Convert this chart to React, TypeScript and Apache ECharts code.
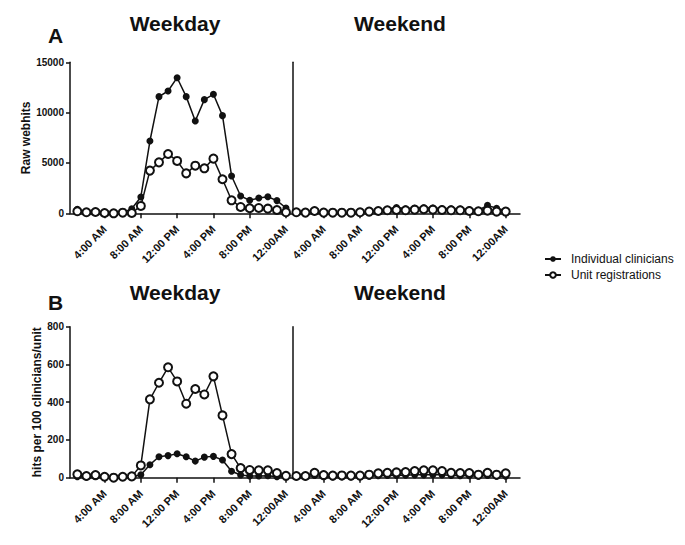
import React, { useEffect, useRef } from "react";
import * as echarts from "echarts";

const HOURS = [1, 2, 3, 4, 5, 6, 7, 8, 9, 10, 11, 12, 13, 14, 15, 16, 17, 18, 19, 20, 21, 22, 23, 24];
const TICK_HOURS = [4, 8, 12, 16, 20, 24];
const TICK_LABELS = ["4:00 AM", "8:00 AM", "12:00 PM", "4:00 PM", "8:00 PM", "12:00AM"];

// Panel A: raw webhits
const A_WEEKDAY_INDIVIDUAL = [400, 80, 90, 70, 60, 70, 460, 1620, 7180, 11590, 12150, 13470, 11590, 9170, 11290, 11820, 9700, 3710, 1720, 1290, 1520, 1650, 1260, 530];
const A_WEEKDAY_UNIT = [200, 100, 130, 30, 0, 60, 30, 730, 4240, 5060, 5890, 5200, 3970, 4730, 4470, 5430, 3380, 1290, 630, 500, 530, 460, 330, 100];
const A_WEEKEND_INDIVIDUAL = [150, 100, 250, 80, 60, 60, 70, 120, 200, 300, 400, 580, 450, 500, 560, 520, 450, 450, 430, 350, 300, 790, 500, 250];
const A_WEEKEND_UNIT = [100, 70, 230, 70, 60, 60, 60, 100, 170, 230, 300, 330, 300, 360, 400, 360, 330, 300, 300, 230, 200, 260, 170, 170];

// Panel B: hits per 100 clinicians/unit
const B_WEEKDAY_INDIVIDUAL = [5, 4, 5, 3, 2, 3, 4, 16, 69, 111, 117, 127, 111, 88, 109, 113, 94, 34, 14, 9, 9, 10, 5, 5];
const B_WEEKDAY_UNIT = [18, 9, 14, 5, 0, 5, 7, 65, 415, 503, 585, 510, 392, 470, 441, 537, 330, 125, 51, 41, 39, 39, 25, 10];
const B_WEEKEND_INDIVIDUAL = [5, 5, 12, 5, 4, 4, 4, 5, 8, 10, 12, 12, 13, 15, 15, 16, 15, 12, 11, 10, 8, 12, 8, 8];
const B_WEEKEND_UNIT = [9, 9, 26, 14, 11, 12, 11, 11, 16, 23, 26, 28, 30, 35, 39, 39, 35, 26, 25, 25, 16, 26, 16, 23];

const SERIES_NAMES = ["Individual clinicians", "Unit registrations"];

const FONT = "'Liberation Sans', Arial, Helvetica, sans-serif";
const INK = "#111";

function pairs(values: number[]) {
  return HOURS.map((h, i) => [h, values[i]]);
}

export default function App() {
  const ref = useRef<HTMLDivElement>(null);

  useEffect(() => {
    if (!ref.current) return;
    const chart = echarts.init(ref.current, null, { renderer: "svg" });

    const grids = [
      { left: 70, top: 62.3, width: 222.7, height: 151 },
      { left: 292.7, top: 62.3, width: 227.3, height: 151 },
      { left: 70, top: 326.7, width: 222.7, height: 151 },
      { left: 292.7, top: 326.7, width: 227.3, height: 151 },
    ];

    const axisLine = { show: true, onZero: false, lineStyle: { color: INK, width: 1.5 } };

    const makeX = (gridIndex: number, min: number, max: number) => ({
      type: "value",
      gridIndex,
      min,
      max,
      axisLine,
      splitLine: { show: false },
      axisTick: {
        show: true,
        customValues: TICK_HOURS,
        length: 5,
        lineStyle: { color: INK, width: 1.5 },
      },
      axisLabel: {
        show: true,
        customValues: TICK_HOURS,
        rotate: 45,
        margin: 14,
        fontSize: 11,
        fontWeight: "bold",
        fontFamily: FONT,
        color: INK,
        formatter: (v: number) => {
          const i = TICK_HOURS.indexOf(Math.round(v));
          return i >= 0 ? TICK_LABELS[i] : "";
        },
      },
    });

    const makeY = (gridIndex: number, max: number, interval: number, main: boolean, name: string, nameGap: number) => ({
      type: "value",
      gridIndex,
      min: 0,
      max,
      interval,
      name: main ? name : "",
      nameLocation: "middle",
      nameGap,
      nameTextStyle: { fontSize: 12, fontWeight: "bold", fontFamily: FONT, color: INK },
      axisLine,
      splitLine: { show: false },
      axisTick: { show: main, length: 4, lineStyle: { color: INK, width: 1.5 } },
      axisLabel: {
        show: main,
        margin: 6,
        fontSize: 10,
        fontWeight: "bold",
        fontFamily: FONT,
        color: INK,
        formatter: (v: number) => String(v),
      },
    });

    const filled = (name: string, idx: number, data: number[]) => ({
      type: "line",
      name,
      xAxisIndex: idx,
      yAxisIndex: idx,
      data: pairs(data),
      symbol: "circle",
      symbolSize: 7,
      showAllSymbol: true,
      lineStyle: { color: INK, width: 1.5 },
      itemStyle: { color: INK, borderColor: INK, borderWidth: 0 },
      z: 2,
    });

    const open = (name: string, idx: number, data: number[]) => ({
      type: "line",
      name,
      xAxisIndex: idx,
      yAxisIndex: idx,
      data: pairs(data),
      symbol: "circle",
      symbolSize: 8,
      showAllSymbol: true,
      lineStyle: { color: INK, width: 1.5 },
      itemStyle: { color: "#fff", borderColor: INK, borderWidth: 2 },
      z: 3,
    });

    const titleText = (text: string, x: number, y: number, size: number) => ({
      type: "text",
      x,
      y,
      style: {
        text,
        fontSize: size,
        fontWeight: "bold",
        fontFamily: FONT,
        fill: INK,
        textAlign: "center",
        textVerticalAlign: "middle",
      },
    });

    chart.setOption({
      animation: false,
      backgroundColor: "#fff",
      grid: grids,
      xAxis: [
        makeX(0, 0.19, 24.74),
        makeX(1, 0.6, 25.57),
        makeX(2, 0.19, 24.74),
        makeX(3, 0.6, 25.57),
      ],
      yAxis: [
        makeY(0, 15000, 5000, true, "Raw webhits", 32),
        makeY(1, 15000, 5000, false, "", 0),
        makeY(2, 800, 200, true, "hits per 100 clinicians/unit", 24),
        makeY(3, 800, 200, false, "", 0),
      ],
      legend: {
        data: SERIES_NAMES,
        orient: "vertical",
        left: 539,
        top: 248,
        itemWidth: 16,
        itemHeight: 7,
        itemGap: 4,
        textStyle: { fontSize: 12, fontFamily: FONT, color: INK, padding: [0, 0, 0, 5] },
      },
      graphic: [
        titleText("A", 55.5, 35.8, 21),
        titleText("Weekday", 175, 23.9, 21),
        titleText("Weekend", 400, 23.9, 21),
        titleText("B", 55.5, 302.4, 21),
        titleText("Weekday", 175, 292, 21),
        titleText("Weekend", 400, 292, 21),
      ],
      series: [
        filled(SERIES_NAMES[0], 0, A_WEEKDAY_INDIVIDUAL),
        open(SERIES_NAMES[1], 0, A_WEEKDAY_UNIT),
        filled(SERIES_NAMES[0], 1, A_WEEKEND_INDIVIDUAL),
        open(SERIES_NAMES[1], 1, A_WEEKEND_UNIT),
        filled(SERIES_NAMES[0], 2, B_WEEKDAY_INDIVIDUAL),
        open(SERIES_NAMES[1], 2, B_WEEKDAY_UNIT),
        filled(SERIES_NAMES[0], 3, B_WEEKEND_INDIVIDUAL),
        open(SERIES_NAMES[1], 3, B_WEEKEND_UNIT),
      ],
    });

    return () => chart.dispose();
  }, []);

  return (
    <div
      ref={ref}
      style={{ position: "absolute", left: 0, top: 0, width: 685, height: 545 }}
    />
  );
}
